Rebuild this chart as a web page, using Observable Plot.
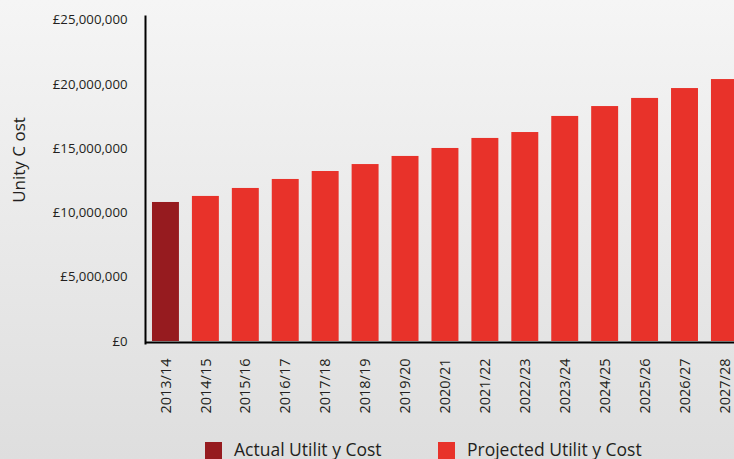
<!DOCTYPE html>
<html>
<head>
<meta charset="utf-8">
<script src="https://cdn.jsdelivr.net/npm/d3@7"></script>
<script src="https://cdn.jsdelivr.net/npm/@observablehq/plot@0.6"></script>
<style>
  html, body { margin: 0; padding: 0; overflow: hidden; }
  #wrap {
    position: relative; width: 734px; height: 459px; overflow: hidden;
    background: linear-gradient(#f5f5f5, #dedede);
    font-family: "Open Sans", sans-serif; color: #231f20;
  }
  #chart svg { display: block; max-width: none; }
  #ytitle { position: absolute; left: -81.5px; top: 148px; width: 200px; height: 24px; line-height: 24px;
            text-align: center; font-size: 17px; transform: rotate(-90deg); white-space: pre; }
  #legend { position: absolute; top: 442px; left: 0; width: 734px; height: 30px; }
  .item { position: absolute; top: 0; display: flex; align-items: flex-start; }
  .sw { width: 17px; height: 17px; margin-right: 12px; }
  .lab { font-size: 17.5px; line-height: 18px; margin-top: -2px; white-space: pre; }
</style>
</head>
<body>
<div id="wrap">
  <div id="chart"></div>
  <div id="ytitle"></div>
  <div id="legend"></div>
</div>
<script>
const years = ["2013/14","2014/15","2015/16","2016/17","2017/18","2018/19","2019/20","2020/21","2021/22","2022/23","2023/24","2024/25","2025/26","2026/27","2027/28"];
const costs = [10810000,11280000,11900000,12600000,13220000,13760000,14390000,15010000,15790000,16250000,17500000,18270000,18900000,19670000,20370000];
const types = ["Actual Utilit y Cost","Projected Utilit y Cost","Projected Utilit y Cost","Projected Utilit y Cost","Projected Utilit y Cost","Projected Utilit y Cost","Projected Utilit y Cost","Projected Utilit y Cost","Projected Utilit y Cost","Projected Utilit y Cost","Projected Utilit y Cost","Projected Utilit y Cost","Projected Utilit y Cost","Projected Utilit y Cost","Projected Utilit y Cost"];
const seriesNames = ["Actual Utilit y Cost","Projected Utilit y Cost"];
const seriesColors = ["#961b1f","#e8322a"];
const yTicks = [0,5000000,10000000,15000000,20000000,25000000];
const yTitle = "Unity C ost";

const data = years.map((year, i) => ({year, cost: costs[i], type: types[i]}));
const H = 430;

const chart = Plot.plot({
  width: 734,
  height: H,
  marginLeft: 145,
  marginRight: 0,
  marginTop: 16,
  marginBottom: H - 343,
  style: {background: "transparent", fontFamily: "Open Sans, sans-serif", color: "#231f20", overflow: "hidden"},
  x: {domain: years, range: [145.5, 744.4], paddingInner: 0.325, paddingOuter: 0.1625, align: 0.5, round: false},
  y: {domain: [0, 25000000], range: [341, 19.5]},
  color: {domain: seriesNames, range: seriesColors},
  marks: [
    Plot.barY(data, {x: "year", y: "cost", fill: "type"}),
    Plot.axisY({ticks: yTicks, tickFormat: d => "£" + d3.format(",")(d), tickSize: 0, tickPadding: 18, fontSize: 13.2, label: null}),
    Plot.axisX({tickRotate: -90, tickSize: 0, tickPadding: 15, fontSize: 14.5, label: null}),
    Plot.ruleY([0], {stroke: "#000", strokeWidth: 2, dy: 1}),
    Plot.frame({anchor: "left", stroke: "#000", strokeWidth: 2})
  ]
});
document.getElementById("chart").appendChild(chart);
document.getElementById("ytitle").textContent = yTitle;

const legend = document.getElementById("legend");
const lefts = [205, 438];
seriesNames.forEach((name, i) => {
  const item = document.createElement("div");
  item.className = "item";
  item.style.left = lefts[i] + "px";
  const sw = document.createElement("div");
  sw.className = "sw";
  sw.style.background = seriesColors[i];
  const lab = document.createElement("div");
  lab.className = "lab";
  lab.textContent = name;
  item.appendChild(sw);
  item.appendChild(lab);
  legend.appendChild(item);
});
</script>
</body>
</html>
